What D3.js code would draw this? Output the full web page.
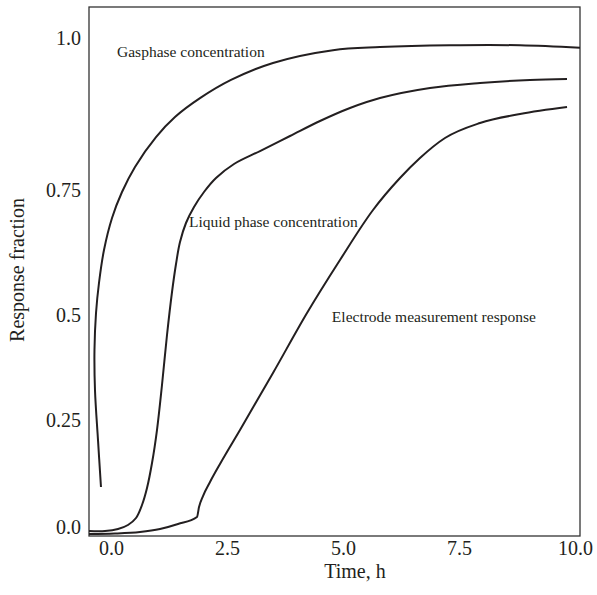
<!DOCTYPE html>
<html>
<head>
<meta charset="utf-8">
<script src="https://cdn.jsdelivr.net/npm/d3@7"></script>
<style>
  body { margin: 0; background: #fff; }
  text { font-family: "Liberation Serif", "Times New Roman", serif; fill: #231f20; }
</style>
</head>
<body>
<div id="chart"></div>
<script>
// time axis, hours
var xTicks = [0, 2.5, 5, 7.5, 10];
var xTickLabels = ["0.0", "2.5", "5.0", "7.5", "10.0"];
var yTicks = [0, 0.25, 0.5, 0.75, 1];
var yTickLabels = ["0.0", "0.25", "0.5", "0.75", "1.0"];

// Gas phase concentration (starts slightly left of t=0 and bends back)
var gasTime = [-0.216, -0.280, -0.345, -0.356, -0.323, -0.259, -0.151, 0.022, 0.237, 0.517, 0.970, 1.379, 1.918, 2.586, 3.491, 4.784, 5.797, 7.306, 8.815, 10.108];
var gasValue = [0.0935, 0.203, 0.321, 0.417, 0.504, 0.564, 0.63, 0.694, 0.746, 0.788, 0.837, 0.870, 0.901, 0.931, 0.959, 0.980, 0.985, 0.988, 0.988, 0.984];

// Liquid phase concentration
var liqTime = [-0.474, -0.129, 0.151, 0.366, 0.539, 0.668, 0.776, 0.884, 0.991, 1.099, 1.207, 1.315, 1.401, 1.487, 1.616, 1.789, 2.004, 2.263, 2.651, 3.211, 3.858, 4.504, 5.151, 5.797, 6.875, 7.953, 9.030, 9.828];
var liqValue = [-0.0093, -0.0093, -0.0047, 0.0047, 0.021, 0.0514, 0.0911, 0.1495, 0.2266, 0.3333, 0.4524, 0.546, 0.602, 0.646, 0.684, 0.716, 0.746, 0.7697, 0.7928, 0.8141, 0.8388, 0.8635, 0.8849, 0.9013, 0.9178, 0.926, 0.931, 0.9326];

// Electrode measurement response
var elecTime = [-0.474, 0.086, 0.625, 1.056, 1.444, 1.853, 1.897, 1.983, 2.134, 2.349, 2.780, 3.491, 4.224, 4.935, 5.647, 6.228, 6.659, 7.198, 7.953, 8.815, 9.828];
var elecValue = [-0.0164, -0.0152, -0.0117, -0.0047, 0.0070, 0.0234, 0.0467, 0.0724, 0.1051, 0.1472, 0.2266, 0.3619, 0.504, 0.61, 0.71, 0.7697, 0.8026, 0.8355, 0.8602, 0.875, 0.8865];

var labelText = ["Gasphase concentration", "Liquid phase concentration", "Electrode measurement response"];
var labelTime = [0.13, 1.68, 4.76];
var labelValue = [0.968, 0.676, 0.483];

var width = 597, height = 595;
var plotLeft = 89, plotRight = 580, plotTop = 7, plotBottom = 536;

var svg = d3.select("#chart").append("svg")
    .attr("width", width)
    .attr("height", height);

var x = d3.scaleLinear().domain([0, 10]).range([111, 575]);
// the printed y axis is not evenly spaced, so map each labelled value
var y = d3.scaleLinear().domain(yTicks).range([527, 420, 315, 190, 38]);

// frame
svg.append("rect")
    .attr("x", plotLeft).attr("y", plotTop)
    .attr("width", plotRight - plotLeft).attr("height", plotBottom - plotTop)
    .attr("fill", "none")
    .attr("stroke", "#333")
    .attr("stroke-width", 1.3);

var xAxis = svg.append("g")
    .attr("transform", "translate(0," + plotBottom + ")")
    .call(d3.axisBottom(x)
        .tickValues(xTicks)
        .tickFormat(function (d, i) { return xTickLabels[i]; })
        .tickSize(0)
        .tickPadding(5));
xAxis.select(".domain").remove();
xAxis.selectAll("text").style("font-size", "20px").attr("fill", "#231f20");

var yAxis = svg.append("g")
    .attr("transform", "translate(" + plotLeft + ",0)")
    .call(d3.axisLeft(y)
        .tickValues(yTicks)
        .tickFormat(function (d, i) { return yTickLabels[i]; })
        .tickSize(0)
        .tickPadding(8));
yAxis.select(".domain").remove();
yAxis.selectAll("text").style("font-size", "20px").attr("fill", "#231f20");

// axis titles
svg.append("text")
    .attr("x", 355).attr("y", 578)
    .attr("text-anchor", "middle")
    .style("font-size", "20px")
    .text("Time, h");

svg.append("text")
    .attr("transform", "translate(24,270) rotate(-90)")
    .attr("text-anchor", "middle")
    .style("font-size", "20px")
    .text("Response fraction");

function drawCurve(times, values, curve) {
    var pts = times.map(function (t, i) { return [t, values[i]]; });
    svg.append("path")
        .datum(pts)
        .attr("fill", "none")
        .attr("stroke", "#231f20")
        .attr("stroke-width", 2)
        .attr("stroke-linejoin", "round")
        .attr("d", d3.line()
            .x(function (d) { return x(d[0]); })
            .y(function (d) { return y(d[1]); })
            .curve(curve));
}

drawCurve(gasTime, gasValue, d3.curveCatmullRom.alpha(0.5));
drawCurve(liqTime, liqValue, d3.curveCatmullRom.alpha(0.5));
drawCurve(elecTime, elecValue, d3.curveMonotoneX);

// curve labels
svg.selectAll("text.curve-label")
    .data(labelText)
    .enter()
    .append("text")
    .attr("class", "curve-label")
    .attr("x", function (d, i) { return x(labelTime[i]); })
    .attr("y", function (d, i) { return y(labelValue[i]); })
    .style("font-size", "15.5px")
    .text(function (d) { return d; });
</script>
</body>
</html>
